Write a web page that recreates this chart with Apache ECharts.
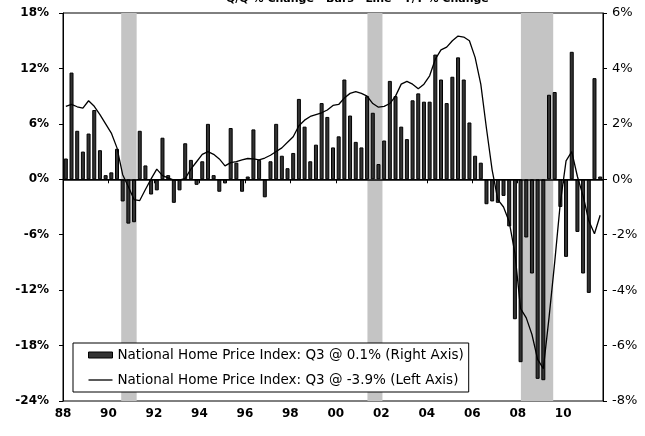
<!DOCTYPE html>
<html>
<head>
<meta charset="utf-8">
<script src="https://cdn.jsdelivr.net/npm/echarts@6/dist/echarts.min.js"></script>
<style>
  html, body { margin: 0; padding: 0; background: #fff; }
  #chart { width: 645px; height: 436px; }
</style>
</head>
<body>
<div id="chart"></div>
<script>
// National Home Price Index, quarterly, 1988 Q1 - 2011 Q3
const firstYear = 1988;
const yearTicks = ['88', '90', '92', '94', '96', '98', '00', '02', '04', '06', '08', '10'];

// Q/Q % change (right axis)
const qoqChange = [
  0.75, 3.85, 1.75, 1.0, 1.65, 2.5, 1.05, 0.15, 0.25, 1.1,
  -0.8, -1.6, -1.55, 1.75, 0.5, -0.55, -0.4, 1.5, 0.15, -0.85,
  -0.4, 1.3, 0.7, -0.2, 0.65, 2.0, 0.15, -0.45, -0.15, 1.85,
  0.6, -0.45, 0.1, 1.8, 0.7, -0.65, 0.65, 2.0, 0.85, 0.4,
  0.95, 2.9, 1.9, 0.65, 1.25, 2.75, 2.25, 1.15, 1.55, 3.6,
  2.3, 1.35, 1.15, 3.0, 2.4, 0.55, 1.4, 3.55, 3.0, 1.9,
  1.45, 2.85, 3.1, 2.8, 2.8, 4.5, 3.6, 2.75, 3.7, 4.4,
  3.6, 2.05, 0.85, 0.6, -0.9, -0.8, -0.85, -0.6, -1.7, -5.05,
  -6.6, -2.1, -3.4, -7.2, -7.25, 3.05, 3.15, -1.0, -2.8, 4.6,
  -1.9, -3.4, -4.1, 3.65, 0.1
];

// Y/Y % change (left axis)
const yoyChange = [
  7.9, 8.1, 7.85, 7.7, 8.5, 7.9, 7.0, 6.0, 5.0, 3.4,
  0.5, -0.8, -2.2, -2.3, -1.1, 0.05, 1.1, 0.4, 0.15, -0.1,
  -0.1, 0.1, 1.1, 1.9, 2.7, 3.0, 2.7, 2.2, 1.45, 1.8,
  1.9, 2.1, 2.25, 2.2, 2.1, 2.3, 2.6, 3.0, 3.4, 4.0,
  4.6, 5.8, 6.4, 6.8, 7.0, 7.2, 7.5, 8.0, 8.1, 8.8,
  9.3, 9.5, 9.3, 9.0, 8.2, 7.8, 7.9, 8.2, 9.0, 10.3,
  10.6, 10.3, 9.8, 10.3, 11.2, 13.0, 14.0, 14.3, 15.0, 15.5,
  15.4, 15.0, 13.2, 10.3, 5.5, 1.0, -2.2, -3.0, -4.6, -8.0,
  -14.0, -15.0, -16.8, -19.5, -20.5, -15.0, -9.0, -2.5, 2.0, 3.0,
  0.3, -1.8, -4.5, -5.9, -3.9
];

// Recession periods (decimal years)
const recessions = [
  [1990.56, 1991.24],
  [2001.39, 2002.05],
  [2008.14, 2009.56]
];

const barName = 'National Home Price Index: Q3 @ 0.1% (Right Axis)';
const lineName = 'National Home Price Index: Q3 @ -3.9% (Left Axis)';

// each quarter sits at the middle of its three months
const quarterPos = i => firstYear + (i + 0.5) / 4;

const labelFont = { fontFamily: 'DejaVu Sans', fontSize: 12, fontWeight: 'bold', color: '#000' };

const chart = echarts.init(document.getElementById('chart'), null, { renderer: 'canvas' });

chart.setOption({
  animation: false,
  backgroundColor: '#fff',
  graphic: [{
    type: 'text',
    left: 226,
    top: -6,
    style: {
      text: 'Q/Q % Change - Bars   Line - Y/Y % Change',
      font: 'bold 11px "DejaVu Sans"',
      fill: '#000'
    }
  }],
  grid: {
    left: 63, right: 42, top: 13, bottom: 35,
    show: true, borderColor: '#000', borderWidth: 1, backgroundColor: 'transparent'
  },
  legend: {
    orient: 'vertical',
    left: 73,
    top: 343,
    padding: [4, 5, 4, 15],
    itemGap: 9,
    itemWidth: 24,
    itemHeight: 6,
    symbolKeepAspect: true,
    backgroundColor: '#fff',
    borderColor: '#000',
    borderWidth: 1,
    borderRadius: 0,
    textStyle: { fontFamily: 'DejaVu Sans', fontSize: 13.5, color: '#000', lineHeight: 16 },
    data: [
      { name: barName, icon: 'rect', itemStyle: { color: '#333', borderColor: '#000', borderWidth: 1 } },
      { name: lineName, icon: 'path://M0,0 H24 V1.3 H0 Z', itemStyle: { color: '#000', borderWidth: 0 } }
    ]
  },
  xAxis: {
    type: 'value',
    min: 1988,
    max: 2011.75,
    interval: 2,
    axisLine: { show: true, lineStyle: { color: '#000', width: 1 } },
    axisTick: { show: true, length: 4, lineStyle: { color: '#000' } },
    axisLabel: {
      ...labelFont,
      margin: 7,
      showMaxLabel: false,
      formatter: v => {
        const k = (v - firstYear) / 2;
        return Number.isInteger(k) && yearTicks[k] !== undefined ? yearTicks[k] : '';
      }
    },
    splitLine: { show: false }
  },
  yAxis: [
    {
      type: 'value',
      position: 'left',
      min: -24, max: 18, interval: 6,
      axisLine: { show: true, lineStyle: { color: '#000', width: 1 } },
      axisTick: { show: true, length: 4, lineStyle: { color: '#000' } },
      axisLabel: { ...labelFont, margin: 14, formatter: '{value}%' },
      splitLine: { show: false }
    },
    {
      type: 'value',
      position: 'right',
      min: -8, max: 6, interval: 2,
      axisLine: { show: true, lineStyle: { color: '#000', width: 1 } },
      axisTick: { show: true, length: 4, lineStyle: { color: '#000' } },
      axisLabel: { fontFamily: 'DejaVu Sans', fontSize: 13, color: '#000', margin: 9, formatter: '{value}%' },
      splitLine: { show: false }
    }
  ],
  series: [
    {
      name: 'recession',
      type: 'line',
      data: [],
      z: 1,
      markArea: {
        silent: true,
        itemStyle: { color: '#c4c4c4' },
        data: recessions.map(r => [{ xAxis: r[0] }, { xAxis: r[1] }])
      }
    },
    {
      name: barName,
      type: 'bar',
      yAxisIndex: 1,
      barWidth: 4,
      z: 3,
      itemStyle: { color: '#333', borderColor: '#000', borderWidth: 1 },
      data: qoqChange.map((v, i) => [quarterPos(i), v])
    },
    {
      name: lineName,
      type: 'line',
      yAxisIndex: 0,
      symbol: 'none',
      z: 4,
      lineStyle: { color: '#000', width: 1.3 },
      itemStyle: { color: '#000' },
      data: yoyChange.map((v, i) => [quarterPos(i), v]),
      markLine: {
        silent: true,
        symbol: ['none', 'none'],
        label: { show: false },
        lineStyle: { color: '#000', width: 1.5, type: 'solid' },
        data: [{ yAxis: 0 }]
      }
    }
  ]
});
</script>
</body>
</html>
